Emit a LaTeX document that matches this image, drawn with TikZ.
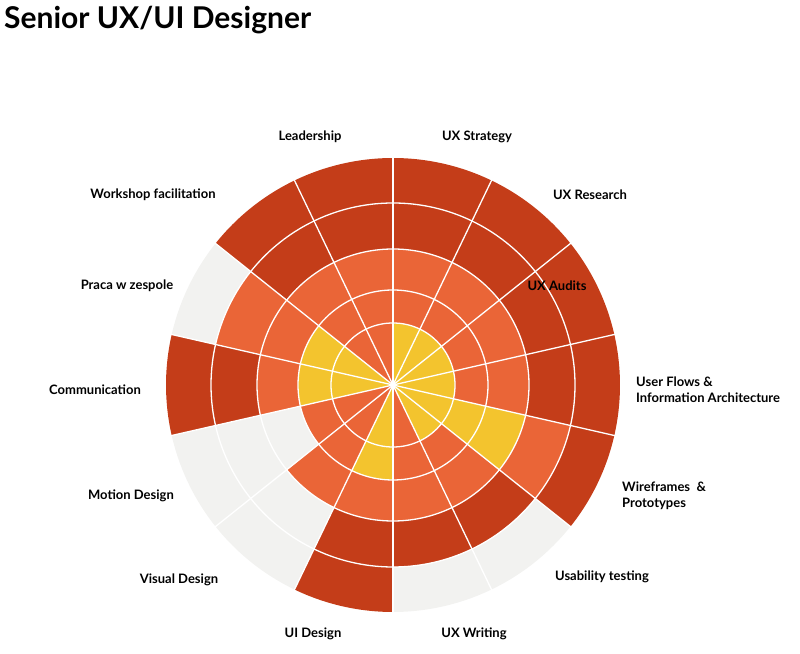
\documentclass[tikz,border=0pt]{standalone}
\usepackage{fontspec}
\setmainfont{Lato}
\definecolor{cY}{HTML}{F3C42E}
\definecolor{cO}{HTML}{EA6537}
\definecolor{cR}{HTML}{C43D19}
\definecolor{cG}{HTML}{F2F2F0}
\begin{document}
\begin{tikzpicture}[x=1pt,y=1pt,
  lbl/.style={font=\fontsize{13}{16}\selectfont\bfseries,text=black,inner sep=0pt},
  sep/.style={white,line width=1.3pt}]
\useasboundingbox (0,0) rectangle (800,653);
\node[anchor=west,inner sep=0pt,font=\fontsize{30}{34}\selectfont\bfseries] (title) at (4,633) {Senior UX/UI Designer};
\coordinate (c) at (393,268);
\def\st{25.7142857}
\foreach \k/\cs in {0/{Y,O,O,R,R},1/{Y,O,O,R,R},2/{Y,O,O,R,R},3/{Y,O,O,R,R},4/{Y,Y,Y,O,R},5/{Y,O,O,R,G},6/{O,O,O,R,G},7/{Y,Y,O,R,R},8/{O,O,O,G,G},9/{O,O,G,G,G},10/{Y,Y,O,R,R},11/{Y,Y,O,O,G},12/{O,O,O,R,R},13/{O,O,O,R,R}}{
  \pgfmathsetmacro\aa{90-\k*\st}
  \pgfmathsetmacro\ab{90-(\k+1)*\st}
  \foreach \cc [count=\j] in \cs {
    \pgfmathsetmacro\ri{{0,62,95,136,182}[\j-1]}
    \pgfmathsetmacro\ro{{62,95,136,182,227}[\j-1]}
    \fill[c\cc] ([shift={(\aa:\ri)}]c) arc[start angle=\aa,end angle=\ab,radius=\ri] -- ([shift={(\ab:\ro)}]c) arc[start angle=\ab,end angle=\aa,radius=\ro] -- cycle;
  }
}
\foreach \r in {62,95,136,182} \draw[sep] (c) circle[radius=\r];
\foreach \k in {0,...,13} \draw[sep] (c) -- ([shift={(90-\k*\st:228)}]c);
\node[lbl] (l1) at (310,516) {Leadership};
\node[lbl] (l2) at (477,516) {UX Strategy};
\node[lbl] (l3) at (153,458) {Workshop facilitation};
\node[lbl] (l4) at (590,458) {UX Research};
\node[lbl] (l5) at (127,367) {Praca w zespole};
\node[lbl] (l6) at (557,367) {UX Audits};
\node[lbl,anchor=west,align=left] (l7) at (636,263) {User Flows \&\\Information Architecture};
\node[lbl] (l8) at (95,263) {Communication};
\node[lbl,anchor=west,align=left] (l9) at (622,157) {Wireframes\ \ \&\\Prototypes};
\node[lbl] (l10) at (131,157) {Motion Design};
\node[lbl] (l11) at (602,76) {Usability testing};
\node[lbl] (l12) at (179,73) {Visual Design};
\node[lbl] (l13) at (313,19) {UI Design};
\node[lbl] (l14) at (474,19) {UX Writing};
\end{tikzpicture}
\end{document}
